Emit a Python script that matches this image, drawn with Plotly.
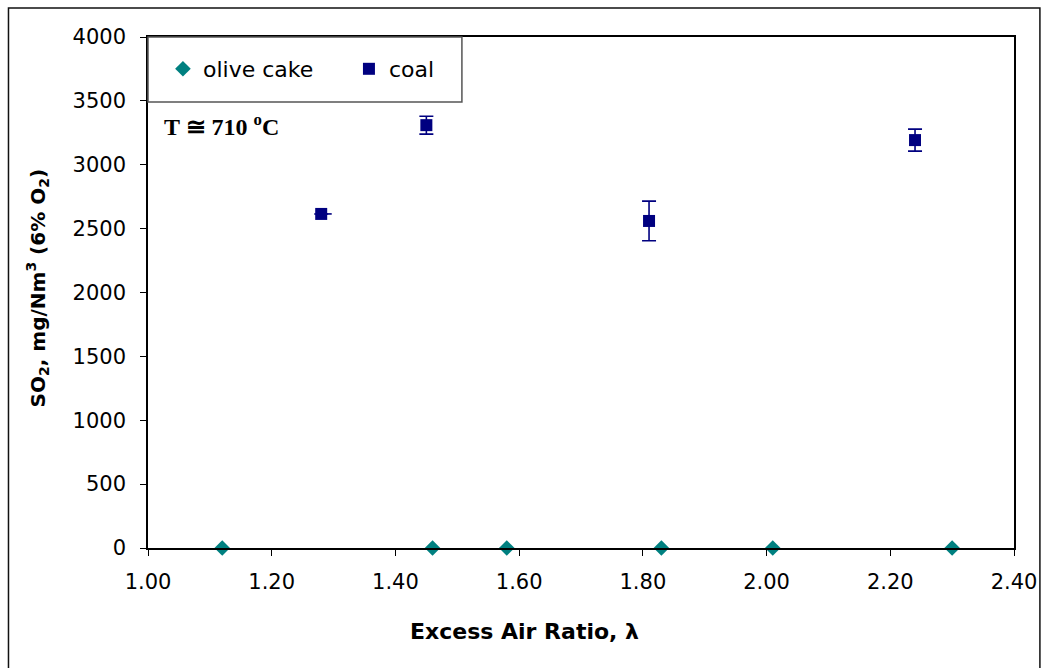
import plotly.graph_objects as go

# Excess air ratio and SO2 emissions (mg/Nm3 at 6% O2)
olive_x = [1.12, 1.46, 1.58, 1.83, 2.01, 2.30]
olive_y = [0, 0, 0, 0, 0, 0]

coal_x = [1.28, 1.45, 1.81, 2.24]
coal_y = [2615, 3310, 2560, 3193]
coal_err = [0, 70, 155, 86]
coal_xerr = [0.017, 0, 0, 0]

x_ticks = [1.0, 1.2, 1.4, 1.6, 1.8, 2.0, 2.2, 2.4]
y_ticks = [0, 500, 1000, 1500, 2000, 2500, 3000, 3500, 4000]

FONT = "DejaVu Sans"
NAVY = "#000080"
TEAL = "#008080"

fig = go.Figure()

fig.add_trace(go.Scatter(
    x=olive_x, y=olive_y, mode="markers", name="olive cake",
    marker=dict(symbol="diamond", size=12, color=TEAL),
    cliponaxis=False,
))

fig.add_trace(go.Scatter(
    x=coal_x, y=coal_y, mode="markers", name="coal",
    marker=dict(symbol="square", size=12, color=NAVY),
    error_y=dict(type="data", array=coal_err, visible=True,
                 color=NAVY, thickness=1.6, width=7),
    error_x=dict(type="data", array=coal_xerr, arrayminus=[0, 0, 0, 0],
                 visible=True, color=NAVY, thickness=1.6, width=0),
    cliponaxis=False,
))

# plot-area geometry in pixels
L, R, T, B = 148, 1017, 37, 548
W, H = R - L, B - T

def px(x):
    return (x - L) / W

def py(y):
    return (B - y) / H

shapes = [
    # outer frame
    dict(type="rect", xref="paper", yref="paper",
         x0=px(8), x1=px(1043), y0=py(700), y1=py(8),
         line=dict(color="#111111", width=1.5), fillcolor="rgba(0,0,0,0)",
         layer="below"),
    # legend box
    dict(type="rect", xref="paper", yref="paper",
         x0=0, x1=px(463), y0=py(102), y1=1,
         line=dict(color="#555555", width=1.5), fillcolor="white"),
]

annotations = [
    dict(text="T ≅ 710 <sup>o</sup>C", xref="paper", yref="paper",
         x=px(162), y=py(125), xanchor="left", yanchor="middle",
         showarrow=False,
         font=dict(family="Liberation Serif", size=24, color="black",
                   weight="bold")),
    dict(text="<b>Excess Air Ratio, λ</b>", xref="paper", yref="paper",
         x=px(526), y=py(631), xanchor="center", yanchor="middle",
         showarrow=False, font=dict(family=FONT, size=22, color="black")),
    dict(text="<b>SO<sub>2</sub>, mg/Nm<sup>3</sup> (6% O<sub>2</sub>)</b>",
         xref="paper", yref="paper", textangle=-90,
         x=px(37), y=py(288), xanchor="center", yanchor="middle",
         showarrow=False, font=dict(family=FONT, size=20, color="black")),
]

fig.update_layout(
    width=1049, height=668,
    margin=dict(l=L, r=1049 - R, t=T, b=668 - B),
    paper_bgcolor="white", plot_bgcolor="white",
    showlegend=True,
    legend=dict(orientation="h", x=px(163), y=py(69), xanchor="left",
                yanchor="middle", bgcolor="rgba(0,0,0,0)", borderwidth=0,
                font=dict(family=FONT, size=22, color="black"),
                entrywidth=141, entrywidthmode="pixels",
                itemsizing="constant"),
    shapes=shapes,
    annotations=annotations,
    font=dict(family=FONT, size=21, color="black"),
)

fig.update_xaxes(
    range=[1.0, 2.4], tickvals=x_ticks, tickformat=".2f",
    showgrid=False, zeroline=False,
    showline=True, linecolor="black", linewidth=1.5, mirror=True,
    ticks="outside", ticklen=6, tickcolor="black",
    ticklabelstandoff=8,
    tickfont=dict(family=FONT, size=21),
)
fig.update_yaxes(
    range=[0, 4000], tickvals=y_ticks,
    showgrid=False, zeroline=False,
    showline=True, linecolor="black", linewidth=1.5, mirror=True,
    ticks="outside", ticklen=6, tickcolor="black",
    ticklabelstandoff=10,
    tickfont=dict(family=FONT, size=21),
)

fig.write_html("out.html")
